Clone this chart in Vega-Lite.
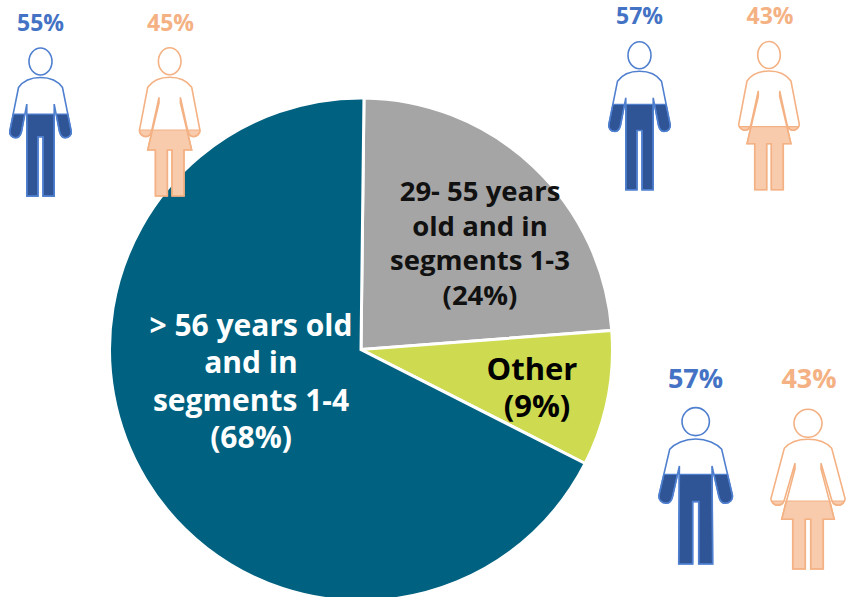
{"$schema":"https://vega.github.io/schema/vega-lite/v6.json","width":846,"height":597,"padding":0,"autosize":"none","background":"white","config":{"view":{"stroke":null}},
"resolve":{"scale":{"shape":"independent","color":"independent"}},
"datasets":{
"pie":[{"segment":"29-55 years old and in segments 1-3","share":23.6,"rank":1},{"segment":"Other","share":8.7,"rank":2},{"segment":"> 56 years old and in segments 1-4","share":67.7,"rank":3}],
"icons":[{"id":"m1","body":"mS","sex":"male","px":40.5,"py":121.8},{"id":"f1","body":"fS","sex":"female","px":169.7,"py":121.8},{"id":"m2","body":"mS","sex":"male","px":639.5,"py":115.5},{"id":"f2","body":"fS","sex":"female","px":769,"py":115.5},{"id":"m3","body":"mL","sex":"male","px":695.7,"py":485.8},{"id":"f3","body":"fL","sex":"female","px":808,"py":489}],
"pct":[{"t":"55%","sex":"male","px":40.5,"py":24,"big":0},{"t":"45%","sex":"female","px":170.5,"py":24,"big":0},{"t":"57%","sex":"male","px":639.5,"py":17,"big":0},{"t":"43%","sex":"female","px":770,"py":17,"big":0},{"t":"57%","sex":"male","px":695.5,"py":380,"big":1},{"t":"43%","sex":"female","px":809,"py":380,"big":1}]
},
"encoding":{},
"layer":[
{"data":{"name":"pie"},"mark":{"type":"arc","outerRadius":251.5,"stroke":"white","strokeWidth":3},
"encoding":{"theta":{"field":"share","type":"quantitative","stack":true,"scale":{"range":[0.012,6.295]}},"order":{"field":"rank","type":"ordinal"},"color":{"field":"segment","type":"nominal","legend":null,"scale":{"domain":["29-55 years old and in segments 1-3","Other","> 56 years old and in segments 1-4"],"range":["#A5A5A5","#CEDB50","#006280"]}},"x":{"datum":361,"type":"quantitative","axis":null,"scale":{"domain":[0,846],"range":[0,846]}},"y":{"datum":349.5,"type":"quantitative","axis":null,"scale":{"domain":[0,597],"range":[0,597]}}}},
{"data":{"name":"icons"},"mark":{"type":"point","filled":true,"size":4,"opacity":1,"strokeWidth":1.2},
"encoding":{"x":{"field":"px","type":"quantitative","axis":null,"scale":{"domain":[0,846],"range":[0,846]}},"y":{"field":"py","type":"quantitative","axis":null,"scale":{"domain":[0,597],"range":[0,597]}},
"fill":{"field":"sex","type":"nominal","legend":null,"scale":{"domain":["male","female"],"range":["#2F5597","#F8CBAD"]}},
"stroke":{"field":"sex","type":"nominal","legend":null,"scale":{"domain":["male","female"],"range":["#4F7FCF","#F4B183"]}},
"shape":{"field":"id","type":"nominal","legend":null,"scale":{"domain":["m1","m2","m3","f1","f2","f3"],"range":[
"M-13.7,-7.7L13.7,-7.7L13.7,74.3L2.5,74.3L2.5,15L-2.5,15L-2.5,74.3L-13.7,74.3ZM15.6,-7.7L27.3,-7.7L30.7,9C31.5,13 28.5,16 24.7,16C21.5,16 19.8,13 19,10ZM-15.6,-7.7L-27.3,-7.7L-30.7,9C-31.5,13 -28.5,16 -24.7,16C-21.5,16 -19.8,13 -19,10Z",
"M-13.7,-11.2L13.7,-11.2L13.7,74.3L2.5,74.3L2.5,15L-2.5,15L-2.5,74.3L-13.7,74.3ZM14.9,-11.2L26.6,-11.2L30.7,9C31.5,13 28.5,16 24.7,16C21.5,16 19.8,13 19,10ZM-14.9,-11.2L-26.6,-11.2L-30.7,9C-31.5,13 -28.5,16 -24.7,16C-21.5,16 -19.8,13 -19,10Z",
"M-16.5,-11.5L16.5,-11.5L17,78.2L3,78.2L3,15.8L-3,15.8L-3,78.2L-17,78.2ZM18.2,-11.5L31.9,-11.5L36.7,9.2C37.5,14 34,17.5 29.3,17.5C26,17.5 23.8,14 23,10.2ZM-18.2,-11.5L-31.9,-11.5L-36.7,9.2C-37.5,14 -34,17.5 -29.3,17.5C-26,17.5 -23.8,14 -23,10.2Z",
"M-17.7,8.2L17.7,8.2L22,28.2L14.3,28.2L14.3,74.2L2.3,74.2L2.3,28.2L-2.3,28.2L-2.3,74.2L-14.3,74.2L-14.3,28.2L-22,28.2ZM18,8.2L30.2,8.2C30.5,12 27,14.8 23.7,14.8C20.5,14.8 18.8,12 18,8.8ZM-18,8.2L-30.2,8.2C-30.5,12 -27,14.8 -23.7,14.8C-20.5,14.8 -18.8,12 -18,8.8Z",
"M-18.3,11.2L18.3,11.2L22,28.2L14.3,28.2L14.3,74.2L2.3,74.2L2.3,28.2L-2.3,28.2L-2.3,74.2L-14.3,74.2L-14.3,28.2L-22,28.2ZM19.5,11.2L29.5,11.2C28.5,13.5 26,14.8 23.7,14.8C21.5,14.8 20,13 19.5,11.2ZM-19.5,11.2L-29.5,11.2C-28.5,13.5 -26,14.8 -23.7,14.8C-21.5,14.8 -20,13 -19.5,11.2Z",
"M-22,12L22,12L26.3,30.3L15.3,30.3L15.3,80L2.7,80L2.7,30.3L-2.7,30.3L-2.7,80L-15.3,80L-15.3,30.3L-26.3,30.3ZM24,12L36,12C35,14.8 33,16.3 30.3,16.3C27.5,16.3 25,14.5 24,12ZM-24,12L-36,12C-35,14.8 -33,16.3 -30.3,16.3C-27.5,16.3 -25,14.5 -24,12Z"
]}}}},
{"data":{"name":"icons"},"mark":{"type":"point","filled":false,"size":4,"opacity":1,"strokeWidth":1.6},
"encoding":{"x":{"field":"px","type":"quantitative","axis":null,"scale":{"domain":[0,846],"range":[0,846]}},"y":{"field":"py","type":"quantitative","axis":null,"scale":{"domain":[0,597],"range":[0,597]}},
"stroke":{"field":"sex","type":"nominal","legend":null,"scale":{"domain":["male","female"],"range":["#4F7FCF","#F4B183"]}},
"shape":{"field":"body","type":"nominal","legend":null,"scale":{"domain":["mS","mL","fS","fL"],"range":[
"M0,-44.3C10,-44.3 18,-40 22,-34.3L30.7,9C31.5,13 28.5,16 24.7,16C21.5,16 19.8,13 19,10L13.7,-17.7L13.7,74.3L2.5,74.3L2.5,15L-2.5,15L-2.5,74.3L-13.7,74.3L-13.7,-17.7L-19,10C-19.8,13 -21.5,16 -24.7,16C-28.5,16 -31.5,13 -30.7,9L-22,-34.3C-18,-40 -10,-44.3 0,-44.3ZM-11.5,-60.3A11.5,13.5 0 1 1 11.5,-60.3A11.5,13.5 0 1 1 -11.5,-60.3Z",
"M0,-46.8C11,-46.8 21,-42 26,-36.5L36.7,9.2C37.5,14 34,17.5 29.3,17.5C26,17.5 23.8,14 23,10.2L16.3,-19.8L17,78.2L3,78.2L3,15.8L-3,15.8L-3,78.2L-17,78.2L-16.3,-19.8L-23,10.2C-23.8,14 -26,17.5 -29.3,17.5C-34,17.5 -37.5,14 -36.7,9.2L-26,-36.5C-21,-42 -11,-46.8 0,-46.8ZM-13.7,-64.2A13.7,14 0 1 1 13.7,-64.2A13.7,14 0 1 1 -13.7,-64.2Z",
"M0,-44.5C10,-44.5 18,-40 22,-34.5L30.3,8.8C30.5,12 27,14.8 23.7,14.8C20.5,14.8 18.8,12 18,8.8L10.7,-24.5L10.7,-19L22,28.2L14.3,28.2L14.3,74.2L2.3,74.2L2.3,28.2L-2.3,28.2L-2.3,74.2L-14.3,74.2L-14.3,28.2L-22,28.2L-10.7,-19L-10.7,-24.5L-18,8.8C-18.8,12 -20.5,14.8 -23.7,14.8C-27,14.8 -30.5,12 -30.3,8.8L-22,-34.5C-18,-40 -10,-44.5 0,-44.5ZM-11.3,-60.5A11.3,13.5 0 1 1 11.3,-60.5A11.3,13.5 0 1 1 -11.3,-60.5Z",
"M0,-49.7C10,-49.7 19,-46 23.7,-40.7L37,9.3C37.5,13 34,16.3 30.3,16.3C27,16.3 24.5,14 23.7,11L13,-25.7L13,-20L26.3,30.3L15.3,30.3L15.3,80L2.7,80L2.7,30.3L-2.7,30.3L-2.7,80L-15.3,80L-15.3,30.3L-26.3,30.3L-13,-20L-13,-25.7L-23.7,11C-24.5,14 -27,16.3 -30.3,16.3C-34,16.3 -37.5,13 -37,9.3L-23.7,-40.7C-19,-46 -10,-49.7 0,-49.7ZM-14,-65.7A14,14 0 1 1 14,-65.7A14,14 0 1 1 -14,-65.7Z"
]}}}},
{"data":{"name":"pct"},"transform":[{"filter":"datum.big==0"}],"mark":{"type":"text","font":"Open Sans","fontWeight":"bold","fontSize":23,"baseline":"middle"},
"encoding":{"text":{"field":"t"},"x":{"field":"px","type":"quantitative","axis":null,"scale":{"domain":[0,846],"range":[0,846]}},"y":{"field":"py","type":"quantitative","axis":null,"scale":{"domain":[0,597],"range":[0,597]}},"color":{"field":"sex","type":"nominal","legend":null,"scale":{"domain":["male","female"],"range":["#4472C4","#F4B183"]}}}},
{"data":{"name":"pct"},"transform":[{"filter":"datum.big==1"}],"mark":{"type":"text","font":"Open Sans","fontWeight":"bold","fontSize":27,"baseline":"middle"},
"encoding":{"text":{"field":"t"},"x":{"field":"px","type":"quantitative","axis":null,"scale":{"domain":[0,846],"range":[0,846]}},"y":{"field":"py","type":"quantitative","axis":null,"scale":{"domain":[0,597],"range":[0,597]}},"color":{"field":"sex","type":"nominal","legend":null,"scale":{"domain":["male","female"],"range":["#4472C4","#F4B183"]}}}},
{"data":{"values":[{"t":"> 56 years old\nand in\nsegments 1-4\n(68%)","px":251,"py":327}]},"mark":{"type":"text","font":"Open Sans","fontWeight":"bold","fontSize":30,"lineHeight":37.3,"lineBreak":"\n","baseline":"middle","color":"white"},
"encoding":{"text":{"field":"t"},"x":{"field":"px","type":"quantitative","axis":null,"scale":{"domain":[0,846],"range":[0,846]}},"y":{"field":"py","type":"quantitative","axis":null,"scale":{"domain":[0,597],"range":[0,597]}}}},
{"data":{"values":[{"t":"29- 55 years\nold and in\nsegments 1-3\n(24%)","px":480,"py":193}]},"mark":{"type":"text","font":"Open Sans","fontWeight":"bold","fontSize":27.5,"lineHeight":34.5,"lineBreak":"\n","baseline":"middle","color":"#111111"},
"encoding":{"text":{"field":"t"},"x":{"field":"px","type":"quantitative","axis":null,"scale":{"domain":[0,846],"range":[0,846]}},"y":{"field":"py","type":"quantitative","axis":null,"scale":{"domain":[0,597],"range":[0,597]}}}},
{"data":{"values":[{"t":"Other","px":532,"py":371},{"t":"(9%)","px":537,"py":408}]},"mark":{"type":"text","font":"Open Sans","fontWeight":"bold","fontSize":31,"baseline":"middle","color":"black"},
"encoding":{"text":{"field":"t"},"x":{"field":"px","type":"quantitative","axis":null,"scale":{"domain":[0,846],"range":[0,846]}},"y":{"field":"py","type":"quantitative","axis":null,"scale":{"domain":[0,597],"range":[0,597]}}}}
]}
